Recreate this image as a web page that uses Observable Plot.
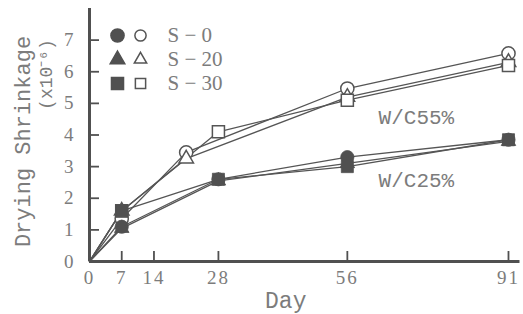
<!DOCTYPE html>
<html>
<head>
<meta charset="utf-8">
<script src="https://cdn.jsdelivr.net/npm/d3@7"></script>
<script src="https://cdn.jsdelivr.net/npm/@observablehq/plot@0.6"></script>
<style>
  html, body { margin: 0; padding: 0; background: #fff; }
  #chart svg { display: block; }
</style>
</head>
<body>
<div id="chart"></div>
<script>
// ---- data ----
const seriesNames = ["S − 0", "S − 20", "S − 30"];
const seriesSymbols = ["circle", "triangle", "square"];
const wc55Days = [[0, 7, 21, 56, 91], [0, 7, 21, 56, 91], [0, 7, 28, 56, 91]];
const wc55Values = [[0, 1.35, 3.45, 5.47, 6.58], [0, 1.6, 3.25, 5.2, 6.3], [0, 1.6, 4.1, 5.1, 6.2]];
const wc25Days = [[0, 7, 28, 56, 91], [0, 7, 28, 56, 91], [0, 7, 28, 56, 91]];
const wc25Values = [[0, 1.1, 2.6, 3.3, 3.85], [0, 1.05, 2.55, 3.1, 3.8], [0, 1.6, 2.6, 3.0, 3.85]];
const xTickLabels = [0, 7, 14, 28, 56, 91];
const yTickLabels = [0, 1, 2, 3, 4, 5, 6, 7];
const groupLabels = ["W/C55%", "W/C25%"];
const groupLabelX = [71, 71];
const groupLabelY = [4.55, 2.56];

// ---- build tables ----
function table(daysArr, valsArr, group) {
  const rows = [];
  daysArr.forEach((ds, i) => ds.forEach((d, j) => rows.push({
    group, series: seriesNames[i], symbol: seriesSymbols[i], day: d, value: valsArr[i][j]
  })));
  return rows;
}
const wc55 = table(wc55Days, wc55Values, "W/C55");
const wc25 = table(wc25Days, wc25Values, "W/C25");
const annotations = groupLabels.map((t, i) => ({text: t, x: groupLabelX[i], y: groupLabelY[i]}));

const W = 523, H = 314;
const mL = 89, mR = 3.5, mT = 8, mB = 53;
const frameH = H - mT - mB, frameW = W - mL - mR;
const ink = "#505050", txt = "#7c7c7c";
const rFor = {circle: 6.6, triangle: 5.4, square: 6.8};

function dotsFor(rows, filled) {
  return seriesSymbols.map(s => Plot.dot(rows.filter(d => d.symbol === s && d.day > 0), {
    x: "day", y: "value", symbol: () => s, r: rFor[s],
    fill: filled ? ink : "#fff", stroke: filled ? ink : "#555", strokeWidth: filled ? 0.8 : 1.5
  }));
}

const legendDy = [27, 51, 75];
const legendMarks = [];
seriesSymbols.forEach((s, i) => {
  legendMarks.push(Plot.dot([s], {frameAnchor: "top-left", dx: 28, dy: legendDy[i], symbol: () => s, r: rFor[s], fill: ink, stroke: ink}));
  legendMarks.push(Plot.dot([s], {frameAnchor: "top-left", dx: 51, dy: legendDy[i], symbol: () => s, r: rFor[s] * 0.85, fill: "#fff", stroke: "#555", strokeWidth: 1.5}));
  legendMarks.push(Plot.text([seriesNames[i]], {frameAnchor: "top-left", dx: 78, dy: legendDy[i], text: d => d, textAnchor: "start", lineAnchor: "middle", fontSize: 21, fontFamily: "Liberation Serif", fill: txt}));
});

const chart = Plot.plot({
  width: W, height: H,
  marginLeft: mL, marginRight: mR, marginTop: mT, marginBottom: mB,
  style: {fontFamily: "Liberation Serif", fontSize: "19px", color: txt, background: "#fff"},
  x: {domain: [0, 93.5]},
  y: {domain: [0, 8]},
  marks: [
    Plot.axisX({ticks: xTickLabels, tickSize: 0, tickPadding: 9, label: null, fill: txt, fontSize: 19}),
    Plot.axisY({ticks: yTickLabels, tickSize: 0, tickPadding: 14, label: null, fill: txt, fontSize: 19}),
    Plot.ruleX(xTickLabels.filter(d => d > 0), {x: d => d, insetTop: frameH - 10, stroke: ink, strokeWidth: 1.8}),
    Plot.ruleY(yTickLabels.filter(d => d > 0), {y: d => d, insetRight: frameW - 10, stroke: ink, strokeWidth: 1.8}),
    Plot.line(wc55, {x: "day", y: "value", z: "series", stroke: "#555", strokeWidth: 1.3}),
    Plot.line(wc25, {x: "day", y: "value", z: "series", stroke: "#555", strokeWidth: 1.3}),
    ...dotsFor(wc55, false),
    ...dotsFor(wc25, true),
    Plot.ruleX([0], {stroke: ink, strokeWidth: 3}),
    Plot.ruleY([0], {stroke: ink, strokeWidth: 3}),
    Plot.text(annotations, {x: "x", y: "y", text: "text", fontFamily: "Liberation Mono", fontSize: 21, fill: txt}),
    ...legendMarks,
    Plot.text(["Drying Shrinkage"], {frameAnchor: "left", dx: -67, dy: 6.5, rotate: -90, text: d => d, textAnchor: "middle", lineAnchor: "middle", fontFamily: "Liberation Mono", fontSize: 22, fill: txt}),
    Plot.text(["(x10⁻⁶)"], {frameAnchor: "top-left", dx: -43, dy: 66, rotate: -90, text: d => d, textAnchor: "middle", lineAnchor: "middle", fontFamily: "Liberation Mono", fontSize: 18, fill: txt}),
    Plot.text(["Day"], {frameAnchor: "bottom", dx: -19, dy: 39, text: d => d, textAnchor: "middle", lineAnchor: "middle", fontFamily: "Liberation Mono", fontSize: 23, fill: txt})
  ]
});
d3.select(chart).selectAll("[aria-label='x-axis tick label'] text, [aria-label='y-axis tick label'] text").attr("letter-spacing", "2px");
document.getElementById("chart").appendChild(chart);
</script>
</body>
</html>
